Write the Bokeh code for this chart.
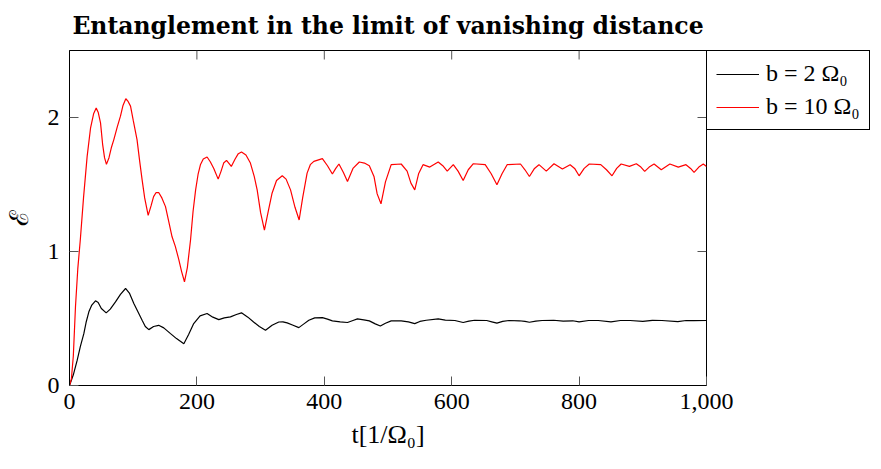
import math
from bokeh.plotting import figure
from bokeh.models import (FixedTicker, NumeralTickFormatter, Legend,
                          LegendItem, Range1d)
from bokeh.embed import file_html
from bokeh.resources import INLINE

# ---- data ----
t_b10 = [0, 3, 6, 9.4, 13, 17, 22, 27.7, 33, 38, 41.9, 45, 48.7, 52, 55, 58, 62, 66,
         69.6, 75, 80, 84, 88.4, 92, 95.8, 100, 106, 110, 114, 118, 123.5, 128, 132,
         136, 140, 145, 150.7, 156, 161, 166, 171.6, 176, 180.5, 185, 190, 194, 198,
         202, 205.7, 210, 216, 221, 226.5, 233.4, 238, 242, 246.5, 250, 254, 260, 265,
         270, 277, 284, 290, 294.6, 300, 306, 312, 318, 325, 334, 340, 347, 354, 360.5,
         366, 373, 378, 383.6, 397, 405, 412.7, 418, 423, 430, 436.4, 445, 455, 463,
         470.7, 478, 483, 489, 496, 505, 520.7, 530, 536, 542, 548, 555, 565.6, 578.8,
         586, 593, 602.5, 610, 618, 626, 634, 652.6, 662, 671, 679, 687, 708, 715, 722,
         730, 737, 748.5, 760.6, 773.8, 785.9, 793, 800, 808, 816, 834, 843, 851.7, 859,
         866, 879, 889.8, 897, 903, 910, 917.7, 929, 942.5, 955.7, 967.8, 975, 980.5,
         988, 995, 1000]
e_b10 = [0.0, 0.05, 0.22, 0.59, 0.87, 1.09, 1.4, 1.71, 1.92, 2.03, 2.07, 2.04, 1.96,
         1.80, 1.70, 1.65, 1.70, 1.78, 1.835, 1.93, 2.01, 2.09, 2.14, 2.12, 2.085, 1.98,
         1.835, 1.68, 1.535, 1.40, 1.27, 1.34, 1.41, 1.44, 1.44, 1.40, 1.335, 1.22, 1.11,
         1.04, 0.94, 0.85, 0.774, 0.88, 1.086, 1.30, 1.46, 1.58, 1.65, 1.69, 1.705, 1.67,
         1.62, 1.54, 1.60, 1.66, 1.68, 1.66, 1.635, 1.69, 1.73, 1.743, 1.72, 1.66, 1.56,
         1.46, 1.29, 1.16, 1.30, 1.435, 1.53, 1.565, 1.54, 1.46, 1.33, 1.235, 1.40, 1.585,
         1.648, 1.673, 1.693, 1.64, 1.578, 1.62, 1.653, 1.59, 1.523, 1.62, 1.668, 1.66,
         1.64, 1.56, 1.43, 1.356, 1.52, 1.648, 1.653, 1.60, 1.51, 1.46, 1.58, 1.648, 1.63,
         1.668, 1.64, 1.60, 1.648, 1.60, 1.53, 1.61, 1.655, 1.648, 1.58, 1.498, 1.58,
         1.648, 1.653, 1.61, 1.56, 1.62, 1.648, 1.60, 1.655, 1.615, 1.648, 1.62, 1.565,
         1.62, 1.653, 1.648, 1.61, 1.565, 1.62, 1.653, 1.635, 1.655, 1.63, 1.598, 1.63,
         1.653, 1.61, 1.653, 1.63, 1.648, 1.62, 1.59, 1.63, 1.653, 1.635]

t_b2 = [0, 6, 12, 17, 22.5, 26, 30.4, 35, 40.8, 45, 50, 57.6, 64, 72.2, 80, 88, 94, 101,
        108, 114, 119, 124.5, 132, 140, 148, 158.6, 168, 179.5, 187, 195, 205, 216, 225,
        234.4, 243, 252.7, 262, 270, 280, 289, 298, 307.7, 318, 328.6, 335, 341.7, 351,
        360, 368, 375.7, 385, 397, 405, 412.7, 425, 436.4, 445, 452, 462, 470.7, 480,
        488, 496, 505, 520.7, 532, 542, 550, 560, 578.8, 590, 605, 618, 627, 636, 655,
        663, 671, 680, 690, 706, 715, 722, 732, 742, 760, 775, 790, 800, 815, 830, 850,
        865, 880, 900, 915, 930, 955, 968, 980, 1000]
e_b2 = [0.0, 0.08, 0.187, 0.29, 0.387, 0.47, 0.55, 0.60, 0.632, 0.62, 0.575, 0.542,
        0.57, 0.624, 0.68, 0.724, 0.69, 0.612, 0.545, 0.487, 0.44, 0.417, 0.44, 0.449,
        0.43, 0.387, 0.35, 0.312, 0.38, 0.462, 0.52, 0.537, 0.51, 0.492, 0.505, 0.512,
        0.53, 0.542, 0.51, 0.474, 0.44, 0.412, 0.45, 0.474, 0.475, 0.467, 0.45, 0.432,
        0.46, 0.487, 0.505, 0.507, 0.495, 0.482, 0.475, 0.47, 0.485, 0.497, 0.49, 0.482,
        0.46, 0.444, 0.465, 0.482, 0.482, 0.475, 0.462, 0.478, 0.487, 0.497, 0.488,
        0.485, 0.47, 0.48, 0.487, 0.485, 0.475, 0.465, 0.478, 0.485, 0.483, 0.478,
        0.472, 0.48, 0.485, 0.487, 0.48, 0.483, 0.475, 0.485, 0.485, 0.475, 0.485,
        0.485, 0.478, 0.486, 0.485, 0.477, 0.485, 0.484, 0.485]

x_ticks = [0, 200, 400, 600, 800, 1000]
y_ticks = [0, 1, 2]
x_limits = [0, 1000]
y_limits = [0, 2.5]
labels = ["b = 2 Ω₀", "b = 10 Ω₀"]
title = "Entanglement in the limit of vanishing distance"
x_label = "t[1/Ω₀]"
y_label = "ℰ"

SERIF = "Liberation Serif"
FS = "24px"
TICK = "#555555"

p = figure(frame_width=637, frame_height=335, output_backend="svg",
           toolbar_location=None,
           x_range=Range1d(*x_limits), y_range=Range1d(*y_limits),
           min_border_left=69, min_border_right=175, min_border_top=50,
           min_border_bottom=84, title=title)
p.background_fill_color = "white"
p.border_fill_color = "white"
p.outline_line_color = "black"
p.outline_line_width = 1
p.outline_line_alpha = 1
p.xgrid.visible = False
p.ygrid.visible = False

xax = p.below[0]
yax = p.left[0]

p.title.text_font = "DejaVu Serif"
p.title.text_font_style = "bold"
p.title.text_font_size = "23.5px"
p.title.text_color = "black"
p.title.align = "center"
p.title.vertical_align = "top"
p.title.standoff = 18

r1 = p.line(t_b2, e_b2, line_color="black", line_width=1.2)
r2 = p.line(t_b10, e_b10, line_color="#ff0000", line_width=1.2)

# mirrored inward ticks on the top and right edges of the frame
p.ray(x=x_ticks, y=[y_limits[1]] * len(x_ticks), length=9, length_units="screen",
      angle=-math.pi / 2, line_color=TICK, line_width=1)
p.ray(x=[x_limits[1]] * len(y_ticks), y=y_ticks, length=9, length_units="screen",
      angle=math.pi, line_color=TICK, line_width=1)

for ax, ticks in ((xax, x_ticks), (yax, y_ticks)):
    ax.ticker = FixedTicker(ticks=ticks)
    ax.major_tick_in = 9
    ax.major_tick_out = 0
    ax.major_tick_line_color = TICK
    ax.minor_tick_line_color = None
    ax.axis_line_color = "black"
    ax.major_label_text_font = SERIF
    ax.major_label_text_font_size = FS
    ax.major_label_text_color = "black"
    ax.axis_label_text_font = SERIF
    ax.axis_label_text_font_size = "26px"
    ax.axis_label_text_font_style = "normal"
    ax.axis_label_text_color = "black"

xax.formatter = NumeralTickFormatter(format="0,0")
xax.axis_label = x_label
yax.axis_label = y_label
xax.major_label_standoff = 8
yax.major_label_standoff = 10
xax.axis_label_standoff = 8
yax.axis_label_standoff = 11

legend = Legend(items=[LegendItem(label=labels[0], renderers=[r1]),
                       LegendItem(label=labels[1], renderers=[r2])],
                location="top_left")
legend.label_text_font = SERIF
legend.label_text_font_size = FS
legend.label_text_color = "black"
legend.glyph_width = 43
legend.glyph_height = 26
legend.label_standoff = 7
legend.padding = 9
legend.spacing = 6
legend.margin = 0
legend.border_line_color = "black"
legend.border_line_width = 1
legend.border_line_alpha = 1
legend.background_fill_alpha = 1
p.add_layout(legend, "right")

open("out.html", "w").write(file_html(p, INLINE))
